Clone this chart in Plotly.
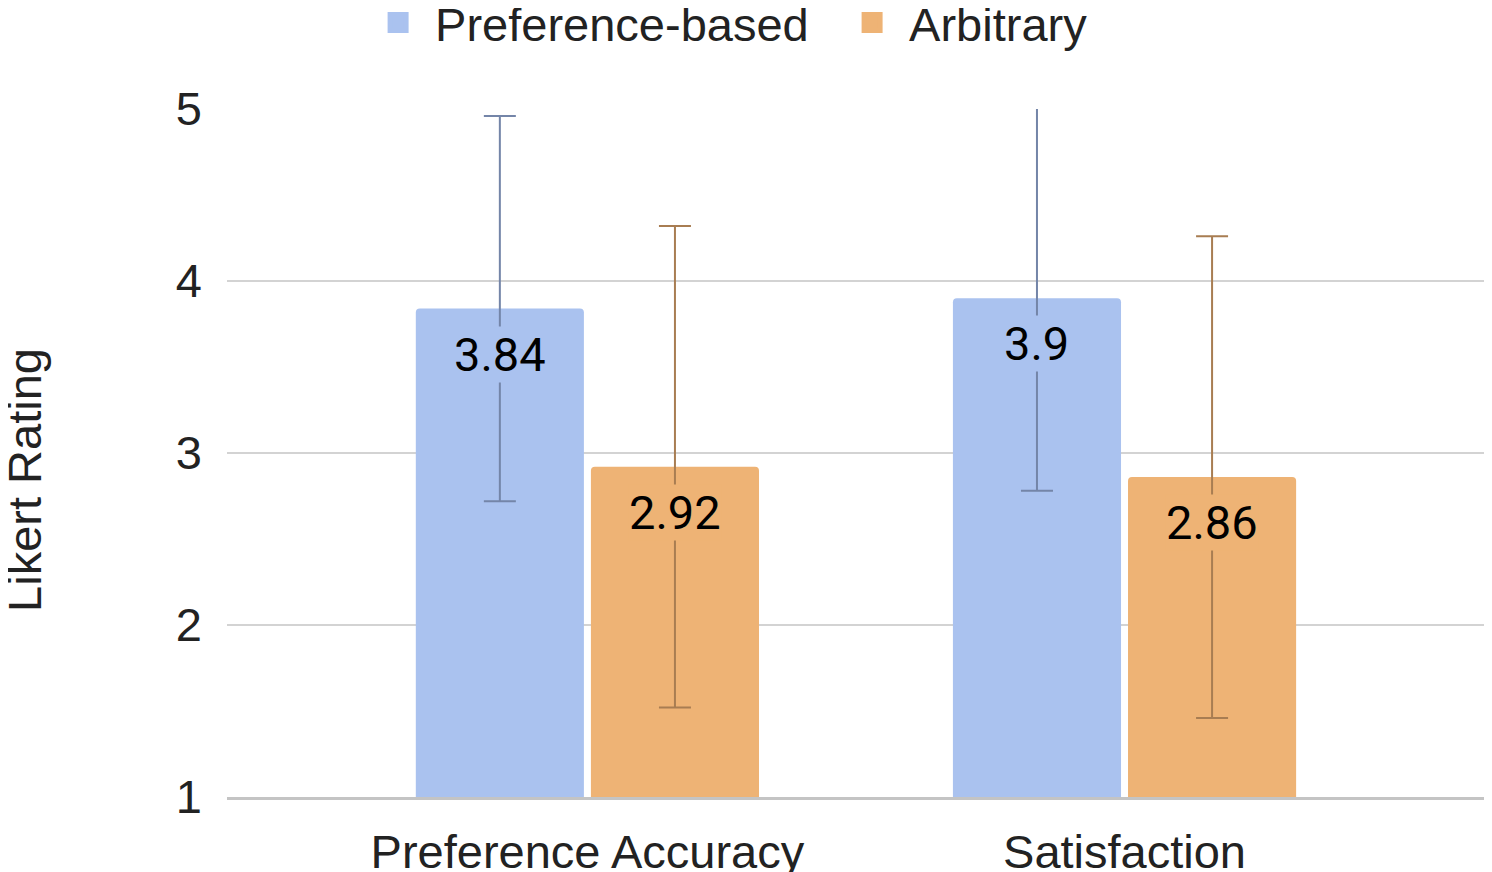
import plotly.graph_objects as go

categories = ["Preference Accuracy", "Satisfaction"]
series_names = ["Preference-based", "Arbitrary"]
pref_means = [3.84, 3.9]
arb_means = [2.92, 2.86]
pref_err = [1.12, 1.12]
arb_err = [1.40, 1.40]
y_ticks = [1, 2, 3, 4, 5]
y_title = "Likert Rating"

blue = "#aac2ef"
orange = "#eeb375"
blue_err = "#7485a8"
orange_err = "#a87d52"
AX_FONT = "Liberation Sans, Arial, sans-serif"
LBL_FONT = "Roboto, sans-serif"
FS = 47

bargap = 0.348
bargroupgap = 0.04

fig = go.Figure()
fig.add_trace(go.Bar(
    x=categories, y=pref_means, name=series_names[0], showlegend=False,
    marker=dict(color=blue, line=dict(width=0)),
    error_y=dict(type="data", array=pref_err, visible=True,
                 color=blue_err, thickness=2, width=16),
))
fig.add_trace(go.Bar(
    x=categories, y=arb_means, name=series_names[1], showlegend=False,
    marker=dict(color=orange, line=dict(width=0)),
    error_y=dict(type="data", array=arb_err, visible=True,
                 color=orange_err, thickness=2, width=16),
))
# legend entries with large square swatches
for name, col in zip(series_names, [blue, orange]):
    fig.add_trace(go.Scatter(
        x=[None], y=[None], mode="markers", name=name,
        marker=dict(symbol="square", size=16, color=col,
                    line=dict(color=col, width=5)),
        hoverinfo="skip",
    ))

# value labels (drawn over the error bars, with bar-coloured background)
slot = (1 - bargap) / 2
offsets = [-slot / 2, slot / 2]
annotations = []
for s, (vals, col) in enumerate([(pref_means, blue), (arb_means, orange)]):
    for i, v in enumerate(vals):
        annotations.append(dict(
            x=i + offsets[s], y=v, xref="x", yref="y",
            text=f"{v:g}", showarrow=False,
            yanchor="top", yshift=-17,
            font=dict(family=LBL_FONT, size=FS, color="#000000"),
            bgcolor=col, borderpad=0,
        ))
# y-axis title
annotations.append(dict(
    x=-0.1604, y=0.461, xref="paper", yref="paper",
    text=y_title, showarrow=False, textangle=-90,
    xanchor="center", yanchor="middle",
    font=dict(family=AX_FONT, size=FS, color="#222222"),
))

# page body has an 8px margin, so the figure is sized to fill the rest
fig.update_layout(
    width=1484, height=864,
    margin=dict(l=219, r=6, t=101, b=75, autoexpand=False),
    paper_bgcolor="white", plot_bgcolor="white",
    barmode="group", bargap=bargap, bargroupgap=bargroupgap,
    barcornerradius=4,
    font=dict(family=AX_FONT, size=FS, color="#222222"),
    showlegend=True,
    legend=dict(orientation="h", x=0.483, xanchor="center",
                y=1.125, yanchor="middle", itemwidth=64,
                entrywidth=395, entrywidthmode="pixels",
                font=dict(family=AX_FONT, size=FS, color="#222222"),
                traceorder="normal", bgcolor="rgba(0,0,0,0)"),
    annotations=annotations,
)
fig.update_xaxes(
    range=[-0.671, 1.673], showgrid=False,
    showline=True, linecolor="#c4c4c4", linewidth=3,
    ticks="", ticklabelstandoff=12, automargin=False,
    tickfont=dict(family=AX_FONT, size=FS, color="#222222"),
)
fig.update_yaxes(
    range=[1, 5], tickvals=y_ticks, showgrid=True,
    gridcolor="#d3d3d3", gridwidth=2, zeroline=False,
    ticks="", ticklabelstandoff=24, automargin=False,
    tickfont=dict(family=AX_FONT, size=FS, color="#222222"),
)

fig.write_html("out.html")
